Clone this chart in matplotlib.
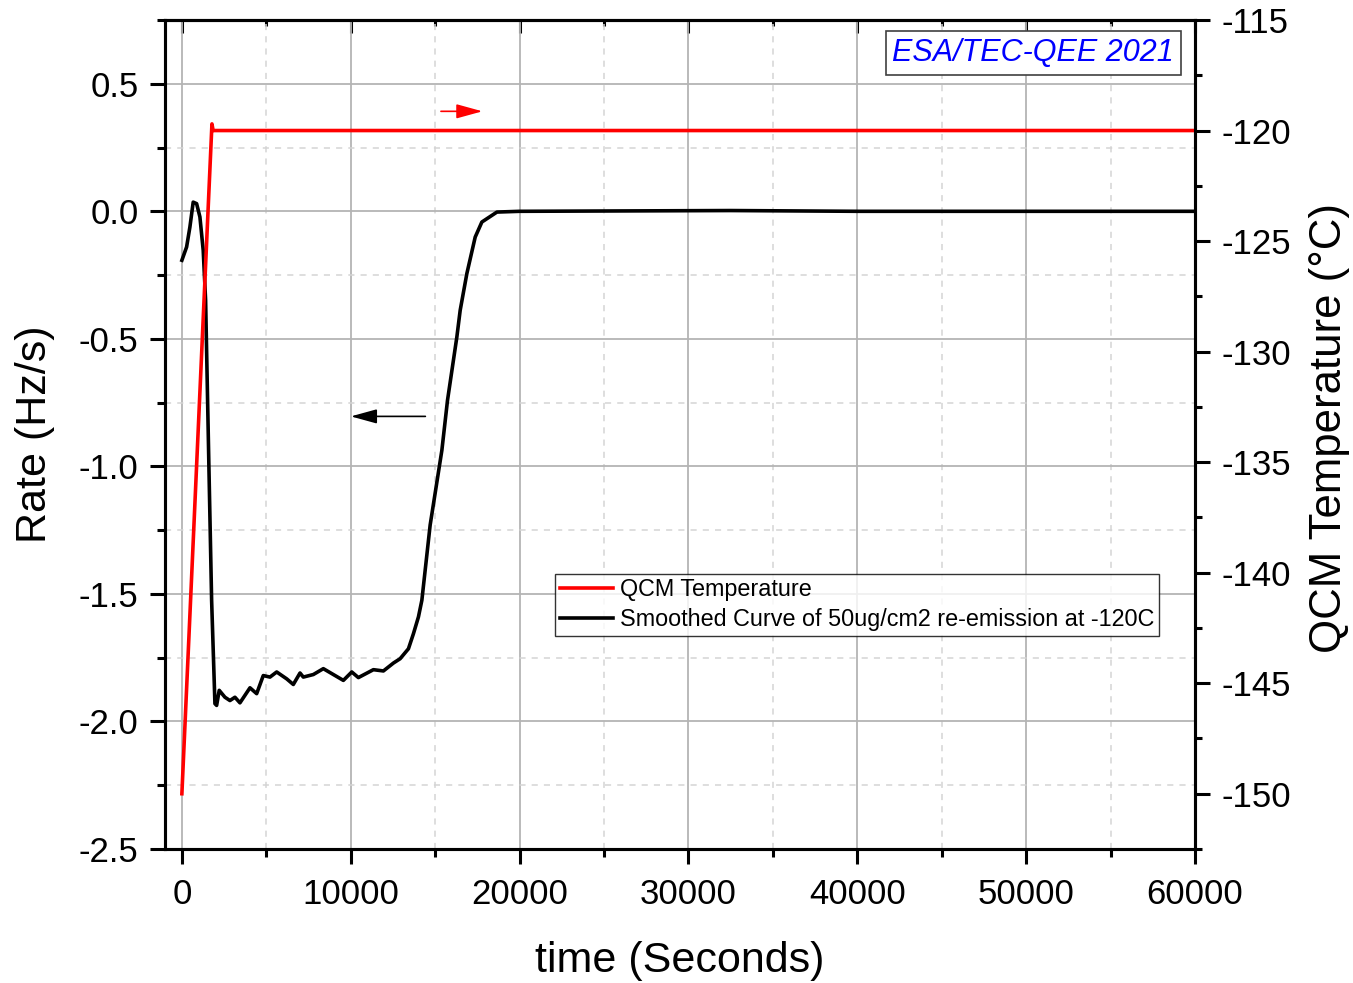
import matplotlib
matplotlib.use("Agg")
import matplotlib.pyplot as plt
from matplotlib.ticker import MultipleLocator

plt.rcParams['font.family'] = ['Liberation Sans', 'DejaVu Sans']

# QCM temperature (right axis, degC)
temp_t = [0, 1780, 1850, 60000]
temp_c = [-150.0, -119.7, -120.0, -120.0]

# smoothed re-emission rate (left axis, Hz/s)
rate_t = [0, 279, 474, 670, 872, 1067, 1263, 1405, 1600, 1761, 1957, 2057, 2211,
          2549, 2846, 3142, 3439, 4032, 4429, 4820, 5217, 5615, 6208, 6599, 6996,
          7192, 7785, 8377, 8970, 9563, 10061, 10453, 11342, 11935, 12528, 12925,
          13417, 13713, 14010, 14212, 14703, 15397, 15731, 16284, 16482, 16877,
          17371, 17766, 18658, 20000, 32500, 40000, 60000]
rate_v = [-0.192, -0.14, -0.062, 0.036, 0.03, -0.022, -0.153, -0.349, -1.0, -1.525,
          -1.93, -1.937, -1.878, -1.905, -1.918, -1.905, -1.927, -1.868, -1.891,
          -1.82, -1.826, -1.806, -1.833, -1.855, -1.81, -1.826, -1.816, -1.793,
          -1.816, -1.839, -1.806, -1.828, -1.797, -1.802, -1.771, -1.754, -1.715,
          -1.656, -1.59, -1.525, -1.23, -0.937, -0.741, -0.493, -0.388, -0.244,
          -0.101, -0.042, -0.003, 0.0, 0.003, 0.0, 0.0]

x_ticks = [0, 10000, 20000, 30000, 40000, 50000, 60000]
rate_ticks = [-2.5, -2.0, -1.5, -1.0, -0.5, 0.0, 0.5]
temp_ticks = [-150, -145, -140, -135, -130, -125, -120, -115]

fig = plt.figure(figsize=(13.53, 9.83), dpi=100)
ax = fig.add_axes([165 / 1353, 1 - 849 / 983, 1030 / 1353, 829 / 983])
ax2 = ax.twinx()

l1, = ax2.plot(temp_t, temp_c, color='#ff0000', lw=2.6, label='QCM Temperature')
l2, = ax.plot(rate_t, rate_v, color='black', lw=2.6,
              label='Smoothed Curve of 50ug/cm2 re-emission at -120C')

ax.set_xlim(-1000, 60000)
ax.set_ylim(-2.5, 0.75)
ax2.set_ylim(-152.5, -115)

ax.set_xticks(x_ticks)
ax.set_xticklabels([str(v) for v in x_ticks])
ax.set_yticks(rate_ticks)
ax.set_yticklabels(['%.1f' % v for v in rate_ticks])
ax2.set_yticks(temp_ticks)
ax2.set_yticklabels([str(v) for v in temp_ticks])
ax.xaxis.set_minor_locator(MultipleLocator(5000))
ax.yaxis.set_minor_locator(MultipleLocator(0.25))
ax2.yaxis.set_minor_locator(MultipleLocator(2.5))

ax.grid(True, which='major', color='#b4b4b4', lw=1.3)
ax.grid(True, which='minor', color='#d4d4d4', lw=1.1, dashes=(4, 4))
ax.set_axisbelow(True)

for a in (ax, ax2):
    for s in a.spines.values():
        s.set_linewidth(2.2)

ax.tick_params(which='major', direction='out', length=11, width=2.2, labelsize=25, pad=8)
ax.tick_params(axis='x', which='major', pad=10)
ax.tick_params(which='minor', direction='out', length=6, width=2.2)
ax2.tick_params(which='major', direction='out', length=11, width=2.2, labelsize=25, pad=8)
ax2.tick_params(which='minor', direction='out', length=5, width=2.2)

top = ax.secondary_xaxis('top')
top.xaxis.set_major_locator(MultipleLocator(10000))
top.xaxis.set_minor_locator(MultipleLocator(5000))
top.tick_params(which='major', direction='in', length=9, width=2.2, labeltop=False)
top.tick_params(which='minor', direction='in', length=4.5, width=2.2)
top.spines['top'].set_linewidth(2.2)

ax.set_xlabel('time (Seconds)', fontsize=31, va='center')
ax.xaxis.set_label_coords(0.5, -0.135)
ax.set_ylabel('Rate (Hz/s)', fontsize=31, va='center')
ax.yaxis.set_label_coords(-0.126, 0.5)
ax2.set_ylabel('QCM Temperature (°C)', fontsize=31.5, va='center')
ax2.yaxis.set_label_coords(1.131, 0.508)

# direction arrows
ax.annotate('', xy=(17964, 0.392), xytext=(15178, 0.392),
            arrowprops=dict(arrowstyle='-|>,head_length=0.8,head_width=0.22',
                            color='#ff0000', lw=1.2, mutation_scale=20))
ax.annotate('', xy=(9842, -0.804), xytext=(14585, -0.804),
            arrowprops=dict(arrowstyle='-|>,head_length=0.8,head_width=0.22',
                            color='black', lw=1.2, mutation_scale=20))

ax.text(0.843, 0.960, 'ESA/TEC-QEE 2021', transform=ax.transAxes, fontsize=22,
        style='italic', color='#0000ff', ha='center', va='center', zorder=10,
        bbox=dict(boxstyle='square,pad=0.22', fc='white', ec='#404040', lw=1.2))

leg = ax2.legend(handles=[l1, l2], loc='lower left', bbox_to_anchor=(0.3786, 0.257),
                 borderaxespad=0, fontsize=16.8, frameon=True, fancybox=False,
                 edgecolor='black', handlelength=2.3, handletextpad=0.3,
                 labelspacing=0.3, borderpad=0.2)
leg.get_frame().set_linewidth(1.0)

fig.savefig('out.png', dpi=100)
